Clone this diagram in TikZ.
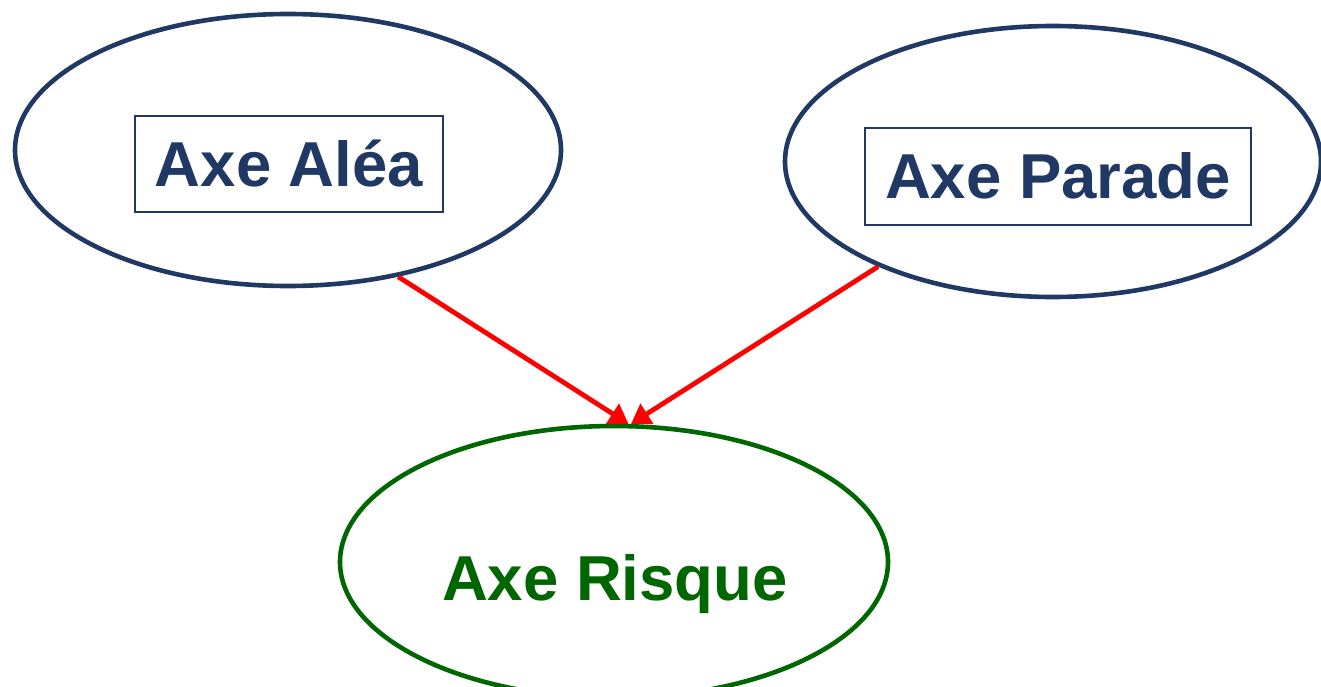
\documentclass[tikz,border=0pt]{standalone}
\usepackage{fontspec}
\setmainfont{Liberation Sans}
\usetikzlibrary{shapes.geometric,arrows.meta}
\definecolor{navy}{RGB}{31,56,100}
\definecolor{dgreen}{RGB}{0,102,0}
\begin{document}
\begin{tikzpicture}[x=1pt,y=1pt,
  oval/.style={ellipse, draw, line width=4.6pt, inner sep=0pt},
  lbl/.style={font=\fontsize{63.5}{63.5}\selectfont\bfseries, inner sep=0pt, anchor=base},
  frame/.style={draw=navy, line width=1.8pt, inner sep=0pt},
  link/.style={red, line width=4.8pt, -{Triangle[length=19pt,width=23pt]}}]
\useasboundingbox (0,0) rectangle (1321,-687);
\node[oval, draw=navy, minimum width=546pt, minimum height=272pt] (alea) at (288,-150) {};
\node[oval, draw=navy, minimum width=536pt, minimum height=271pt] (parade) at (1053,-161.5) {};
\node[oval, draw=dgreen, minimum width=548pt, minimum height=272pt] (risque) at (614,-562) {};
\node[frame, minimum width=308pt, minimum height=96pt] (boxa) at (289,-164) {};
\node[frame, minimum width=386pt, minimum height=97pt] (boxp) at (1058,-176.5) {};
\node[lbl, text=navy] (ta) at (289,-186) {Axe Aléa};
\node[lbl, text=navy] (tp) at (1058,-198) {Axe Parade};
\node[lbl, text=dgreen] (tr) at (615,-600) {Axe Risque};
\draw[link] (alea.-49) -- (risque.84);
\draw[link] (parade.-149) -- (risque.83);
\end{tikzpicture}
\end{document}
